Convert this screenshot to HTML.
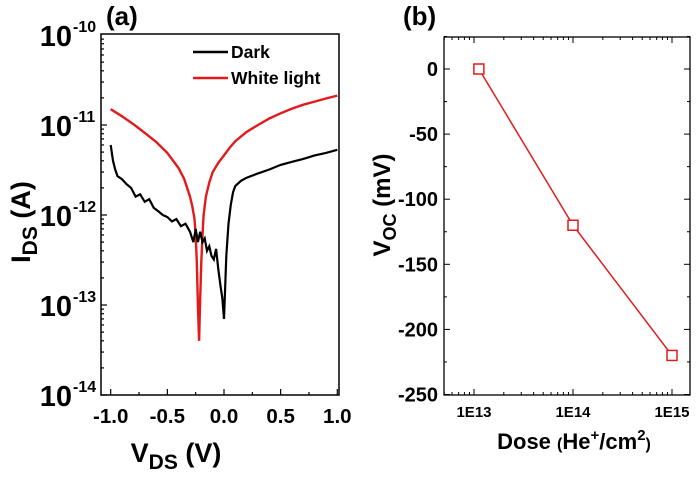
<!DOCTYPE html>
<html><head><meta charset="utf-8"><style>
body{margin:0;background:#fff}
svg{display:block;font-family:"Liberation Sans",sans-serif;font-weight:bold}
</style></head><body>
<svg id="c" width="697" height="478" viewBox="0 0 697 478" xmlns="http://www.w3.org/2000/svg">
<g id="pa"></g>
<g id="pb"></g>
</svg>
<script>
// Panel (a) data
const darkV=[-1,-0.98,-0.96,-0.94,-0.92,-0.9,-0.86,-0.82,-0.78,-0.74,-0.7,-0.66,-0.62,-0.58,-0.54,-0.5,-0.46,-0.42,-0.38,-0.34,-0.3,-0.27,-0.25,-0.23,-0.21,-0.19,-0.17,-0.15,-0.13,-0.11,-0.09,-0.07,-0.05,-0.03,-0.015,0,0.01,0.02,0.04,0.06,0.08,0.1,0.15,0.2,0.3,0.4,0.5,0.6,0.7,0.8,0.9,1.0];
const darkI=[6e-12,4e-12,3.2e-12,2.7e-12,2.6e-12,2.5e-12,2.2e-12,2.0e-12,1.6e-12,1.7e-12,1.4e-12,1.5e-12,1.2e-12,1.1e-12,1.0e-12,0.95e-12,0.85e-12,0.9e-12,0.75e-12,0.8e-12,0.65e-12,0.5e-12,0.7e-12,0.5e-12,0.65e-12,0.5e-12,0.55e-12,0.4e-12,0.45e-12,0.35e-12,0.32e-12,0.42e-12,0.25e-12,0.16e-12,0.12e-12,0.07e-12,0.15e-12,0.35e-12,0.8e-12,1.3e-12,1.8e-12,2.1e-12,2.4e-12,2.6e-12,2.9e-12,3.2e-12,3.6e-12,3.9e-12,4.2e-12,4.6e-12,4.9e-12,5.3e-12];
const whiteV=[-1,-0.9,-0.8,-0.7,-0.6,-0.5,-0.4,-0.35,-0.3,-0.28,-0.26,-0.25,-0.24,-0.23,-0.22,-0.21,-0.2,-0.19,-0.18,-0.16,-0.13,-0.1,-0.05,0,0.05,0.1,0.2,0.3,0.4,0.5,0.6,0.7,0.8,0.9,1.0];
const whiteI=[1.5e-11,1.25e-11,1.02e-11,8.2e-12,6.5e-12,4.9e-12,3.3e-12,2.5e-12,1.6e-12,1.25e-12,0.9e-12,0.6e-12,0.3e-12,0.1e-12,0.04e-12,0.12e-12,0.3e-12,0.6e-12,1.0e-12,1.6e-12,2.3e-12,3.0e-12,3.8e-12,4.6e-12,5.6e-12,6.6e-12,8.4e-12,1.0e-11,1.18e-11,1.35e-11,1.52e-11,1.68e-11,1.82e-11,1.97e-11,2.12e-11];
const aXTicks=[-1.0,-0.5,0.0,0.5,1.0];
const aXTickLabels=["-1.0","-0.5","0.0","0.5","1.0"];
const aYExps=[-10,-11,-12,-13,-14];
// Panel (b) data
const dose=[1.12e13,1e14,1e15];
const voc=[0,-120,-220];
const bXTicks=[1e13,1e14,1e15];
const bXTickLabels=["1E13","1E14","1E15"];
const bYTicks=[0,-50,-100,-150,-200,-250];

const NS="http://www.w3.org/2000/svg";
function mk(p,t,a,txt){const e=document.createElementNS(NS,t);for(const k in a)e.setAttribute(k,a[k]);if(txt!==undefined)e.textContent=txt;p.appendChild(e);return e;}
const pa=document.getElementById('pa'), pb=document.getElementById('pb');

const ax=v=>224+v*113.3;
const ay=i=>35+(-10-Math.log10(i))*90;
const A={l:101,r:339,t:34,b:395};
let e=mk(pa,'rect',{x:A.l,y:A.t,width:A.r-A.l,height:A.b-A.t,fill:'none',stroke:'#000','stroke-width':1.5});


for(let v=-1;v<=1.001;v+=0.25){const x=ax(v);const major=Math.abs(v*2-Math.round(v*2))<1e-6;mk(pa,'line',{x1:x,x2:x,y1:A.b,y2:A.b-(major?6:3),stroke:'#000','stroke-width':1.2});}
aXTicks.forEach((v,i)=>{e=mk(pa,'text',{x:ax(v),y:423,'text-anchor':'middle','font-size':20.5},aXTickLabels[i]);

});
for(let d=-14;d<-10;d++){for(let m=1;m<10;m++){const y=ay(m*Math.pow(10,d));mk(pa,'line',{x1:A.l,x2:A.l+(m==1?6:3),y1:y,y2:y,stroke:'#000','stroke-width':1.2});}}
aYExps.forEach(p=>{const y=ay(Math.pow(10,p));
e=mk(pa,'text',{x:72,y:y+11,'text-anchor':'end','font-size':29},'10');


mk(pa,'text',{x:73,y:y-3,'font-size':16},String(p));});
function path(xs,ys,fx,fy){return xs.map((v,i)=>(i?'L':'M')+fx(v).toFixed(1)+','+fy(ys[i]).toFixed(1)).join('');}
e=mk(pa,'path',{d:path(whiteV,whiteI,ax,ay),fill:'none',stroke:'#e31a1c','stroke-width':2.4});


e=mk(pa,'path',{d:path(darkV,darkI,ax,ay),fill:'none',stroke:'#000','stroke-width':2.2});


e=mk(pa,'g',{});


mk(e,'line',{x1:193,x2:228,y1:52,y2:52,stroke:'#000','stroke-width':2.5});
mk(e,'text',{x:231,y:58,'font-size':17.5},'Dark');
mk(e,'line',{x1:193,x2:228,y1:78,y2:78,stroke:'#e31a1c','stroke-width':2.5});
mk(e,'text',{x:231,y:84,'font-size':17.5},'White light');
e=mk(pa,'text',{x:106,y:25,'font-size':26},'(a)');


e=mk(pa,'text',{x:176,y:462,'font-size':27,'text-anchor':'middle'});


e.innerHTML='V<tspan font-size="21" dy="7">DS</tspan><tspan dy="-7"> (V)</tspan>';
e=mk(pa,'text',{transform:'translate(30,222) rotate(-90)','font-size':27,'text-anchor':'middle'});


e.innerHTML='I<tspan font-size="21" dy="7">DS</tspan><tspan dy="-7"> (A)</tspan>';

const bx=d=>474+(Math.log10(d)-13)*99;
const by=v=>69-v*1.302;
const B={l:444,r:690,t:37,b:395};
e=mk(pb,'rect',{x:B.l,y:B.t,width:B.r-B.l,height:B.b-B.t,fill:'none',stroke:'#000','stroke-width':1.3});


for(let d=12;d<=15;d++){for(let m=1;m<10;m++){const x=bx(m*Math.pow(10,d));if(x<B.l||x>B.r)continue;mk(pb,'line',{x1:x,x2:x,y1:B.b,y2:B.b-(m==1?6:3),stroke:'#000','stroke-width':1});mk(pb,'line',{x1:x,x2:x,y1:B.t,y2:B.t+(m==1?6:3),stroke:'#000','stroke-width':1});}}
bXTicks.forEach((d,i)=>{e=mk(pb,'text',{x:bx(d),y:417,'text-anchor':'middle','font-size':15},bXTickLabels[i]);

});
for(let v=-250;v<=25;v+=25){const y=by(v);const L=(v%50==0)?6:3;mk(pb,'line',{x1:B.l,x2:B.l+L,y1:y,y2:y,stroke:'#000','stroke-width':1});mk(pb,'line',{x1:B.r,x2:B.r-L,y1:y,y2:y,stroke:'#000','stroke-width':1});}
bYTicks.forEach(v=>{e=mk(pb,'text',{x:438,y:by(v)+7,'text-anchor':'end','font-size':20},String(v));

});
e=mk(pb,'path',{d:path(dose,voc,bx,by),fill:'none',stroke:'#e31a1c','stroke-width':1.5});


dose.forEach((d,i)=>{e=mk(pb,'rect',{x:bx(d)-5,y:by(voc[i])-5,width:10,height:10,fill:'#fff',stroke:'#e31a1c','stroke-width':1.5});

});
e=mk(pb,'text',{x:403,y:25,'font-size':26},'(b)');


e=mk(pb,'text',{x:574,y:449,'font-size':22,'text-anchor':'middle'});


e.innerHTML='Dose <tspan font-size="16">(</tspan>He<tspan font-size="15" dy="-9">+</tspan><tspan dy="9">/cm</tspan><tspan font-size="15" dy="-9">2</tspan><tspan font-size="16" dy="9">)</tspan>';
e=mk(pb,'text',{transform:'translate(390,205) rotate(-90)','font-size':24,'text-anchor':'middle'});


e.innerHTML='V<tspan font-size="18" dy="6">OC</tspan><tspan dy="-6"> (mV)</tspan>';
</script>
</body></html>
